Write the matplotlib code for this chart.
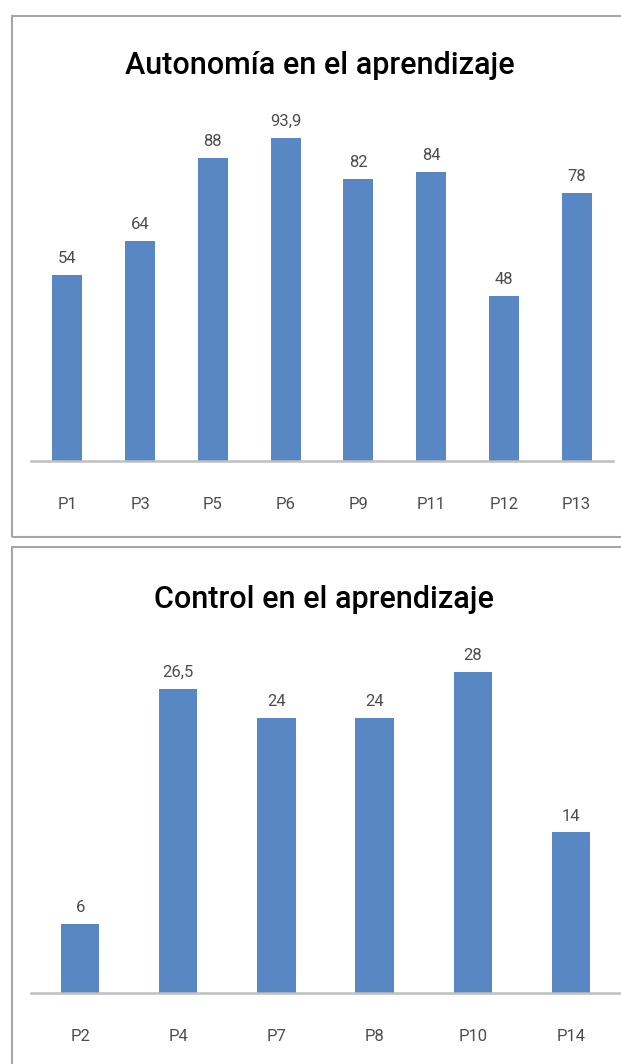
import matplotlib
matplotlib.use("Agg")
import matplotlib.pyplot as plt
from matplotlib.patches import Rectangle

plt.rcParams['font.family'] = ['Roboto', 'DejaVu Sans']

# datos
cat_aut = ["P1", "P3", "P5", "P6", "P9", "P11", "P12", "P13"]
val_aut = [54, 64, 88, 93.9, 82, 84, 48, 78]
cat_ctl = ["P2", "P4", "P7", "P8", "P10", "P14"]
val_ctl = [6, 26.5, 24, 24, 28, 14]

W, H = 621, 1064
BLUE = "#5887C3"
GREY = "#4D4D4D"

fig = plt.figure(figsize=(W / 100, H / 100), dpi=100)


def fmt(v):
    s = f"{v:g}"
    return s.replace(".", ",")


def panel(rect, cats, vals, title, ymax, width, title_y, title_x):
    ax = fig.add_axes(rect)
    x = range(len(cats))
    bars = ax.bar(x, vals, width=width, color=BLUE, zorder=2)
    for b, v in zip(bars, vals):
        ax.text(b.get_x() + b.get_width() / 2, v + ymax * 0.025, fmt(v),
                ha="center", va="bottom", fontsize=12, color=GREY)
    ax.set_xlim(-0.5, len(cats) - 0.5)
    ax.set_ylim(0, ymax)
    ax.set_xticks(list(x))
    ax.set_xticklabels(cats, fontsize=12, color=GREY)
    ax.tick_params(axis="x", length=0, pad=26)
    ax.set_yticks([])
    for s in ["top", "right", "left"]:
        ax.spines[s].set_visible(False)
    ax.spines["bottom"].set_color("#BFBFBF")
    ax.spines["bottom"].set_linewidth(1.8)
    fig.text(title_x / W, title_y, title, ha="center", va="center",
             fontsize=22, fontweight="medium", color="black")
    return ax


# panel superior: línea base y=461 px, 3.44 px por unidad
panel([31 / W, (H - 461) / H, 582 / W, 361 / H], cat_aut, val_aut,
      "Autonomía en el aprendizaje", 361 / 3.44, 0.41, 1 - 65 / H, 320)

# panel inferior: línea base y=993 px, 11.47 px por unidad
panel([31 / W, (H - 993) / H, 589 / W, 353 / H], cat_ctl, val_ctl,
      "Control en el aprendizaje", 353 / 11.47, 0.39, 1 - 599 / H, 324)

# marcos
for y0, y1 in [(16, 537), (547, 1075)]:
    fig.patches.append(Rectangle((12 / W, 1 - y1 / H), 620 / W, (y1 - y0) / H,
                                 transform=fig.transFigure, fill=False,
                                 edgecolor="#A6A6A6", linewidth=1.5))

fig.savefig("out.png", dpi=100)
